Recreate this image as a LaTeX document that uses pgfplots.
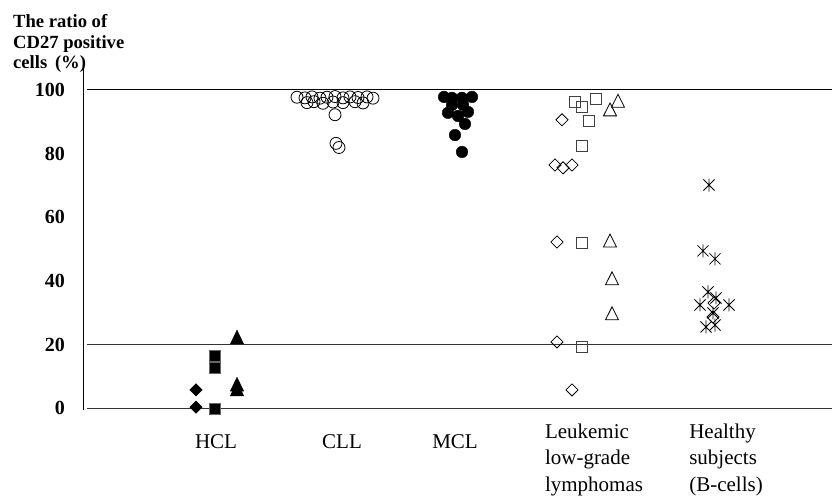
\documentclass[border=0pt]{standalone}
\usepackage{fontspec}
\setmainfont{Liberation Serif}
\usepackage{pgfplots}
\pgfplotsset{compat=1.18}
\pgfdeclareplotmark{ast6}{%
  \pgfpathmoveto{\pgfqpoint{0pt}{\pgfplotmarksize}}%
  \pgfpathlineto{\pgfqpoint{0pt}{-\pgfplotmarksize}}%
  \pgfpathmoveto{\pgfqpoint{-0.85\pgfplotmarksize}{0.85\pgfplotmarksize}}%
  \pgfpathlineto{\pgfqpoint{0.85\pgfplotmarksize}{-0.85\pgfplotmarksize}}%
  \pgfpathmoveto{\pgfqpoint{-0.85\pgfplotmarksize}{-0.85\pgfplotmarksize}}%
  \pgfpathlineto{\pgfqpoint{0.85\pgfplotmarksize}{0.85\pgfplotmarksize}}%
  \pgfusepathqstroke
}
\begin{document}
\begin{tikzpicture}
\begin{axis}[
  at={(83pt,87pt)}, anchor=south west,
  scale only axis, width=749pt, height=343pt,
  xmin=83, xmax=832, ymin=-0.6, ymax=107.2,
  axis lines=left, axis line style={-, line width=0.9pt},
  x axis line style={draw=none},
  clip=false,
  major tick length=0pt,
  ytick={0,20,40,60,80,100},
  /pgf/number format/assume math mode=true,
  yticklabel style={font=\bfseries\fontsize{20}{24}\selectfont, inner sep=0pt, anchor=east, xshift=-18pt},
  xtick={216,342,455,594,726},
  xticklabels={{\rule{0pt}{25.3pt}HCL},{\rule{0pt}{25.3pt}CLL},{\rule{0pt}{25.3pt}MCL},{Leukemic\\low-grade\\lymphomas},{Healthy\\subjects\\(B-cells)}},
  xticklabel style={font=\fontsize{21}{26.5}\selectfont, align=left, anchor=north, inner sep=0pt, yshift=-13.5pt},
]
% reference lines
\addplot[black, line width=0.9pt, no marks] coordinates {(87,100) (832,100)};
\addplot[black!80, line width=0.9pt, no marks] coordinates {(87,20) (832,20)};
\addplot[black!80, line width=0.9pt, no marks] coordinates {(87,0) (832,0)};
% HCL
\addplot[only marks, mark=square*, mark size=4.4pt, mark options={rotate=45, fill=black, draw=black}] coordinates {(196,5.7) (196,0.3)};
\addplot[only marks, mark=square*, mark size=5.5pt, mark options={fill=black, draw=black!60, line width=0.6pt}] coordinates {(215,16.4) (215,12.6) (215,-0.3)};
\addplot[only marks, mark=triangle*, mark size=7.7pt, mark options={yscale=1.2, fill=black, draw=black}] coordinates {(237,21.6) (237,6.8) (237,5.3)};
% CLL
\addplot[only marks, mark=o, mark size=6pt, mark options={draw=black, line width=0.8pt}] coordinates {
(297,97.7)(305,97.5)(312,97.8)(320,97.4)(327,97.7)(335,97.9)(343,97.5)(350,97.8)(358,97.6)(367,97.8)(373,97.4)
(307,96.0)(314,96.3)(323,95.8)(333,96.2)(343,96.0)(355,96.3)(363,95.9)
(335,92.2)(336,83.2)(339,81.9)};
% MCL
\addplot[only marks, mark=*, mark size=5.8pt, mark options={fill=black, draw=black}] coordinates {
(444,97.8)(452,97.5)(462,97.5)(472,97.8)(452,95.3)(463,95.3)(448,92.8)(458,91.8)(468,93.1)(465,89.3)(455,85.8)(462,80.5)};
% Leukemic low-grade lymphomas
\addplot[only marks, mark=square, mark size=4.3pt, mark options={rotate=45, draw=black, line width=0.8pt}] coordinates {
(562,90.6)(555,76.4)(563,75.5)(572,76.4)(557,52.2)(557,20.8)(572,5.7)};
\addplot[only marks, mark=square, mark size=5.5pt, mark options={draw=black!75, line width=0.9pt}] coordinates {
(575,96.2)(582,94.7)(596,97.2)(589,90.3)(582,82.4)(582,51.9)(582,19.2)};
\addplot[only marks, mark=triangle, mark size=7.5pt, mark options={yscale=1.15, draw=black, line width=0.8pt}] coordinates {
(618,95.9)(610,93.2)(610,52.0)(612,40.1)(612,29.1)};
% Healthy subjects
\addplot[only marks, mark=ast6, mark size=6.5pt, mark options={draw=black, line width=0.8pt}] coordinates {
(709,70.1)(703,49.4)(715,46.9)(708,36.5)(716,34.6)(700,32.4)(729,32.4)(713,29.9)(706,25.5)(715,26.1)};
\addplot[only marks, mark=square, mark size=4.3pt, mark options={rotate=45, draw=black, line width=0.8pt}] coordinates {
(714,33.0)(713,28.6)};
\node[anchor=north west, align=left, inner sep=0pt, font=\bfseries\fontsize{18.6}{20.5}\selectfont]
  at (rel axis cs:0,1) [xshift=-70pt, yshift=52.5pt] {The ratio of\\CD27 positive\\cells\ \,(\%)};
\end{axis}
\pgfresetboundingbox
\useasboundingbox (0pt,0pt) rectangle (832pt,497pt);
\end{tikzpicture}
\end{document}
